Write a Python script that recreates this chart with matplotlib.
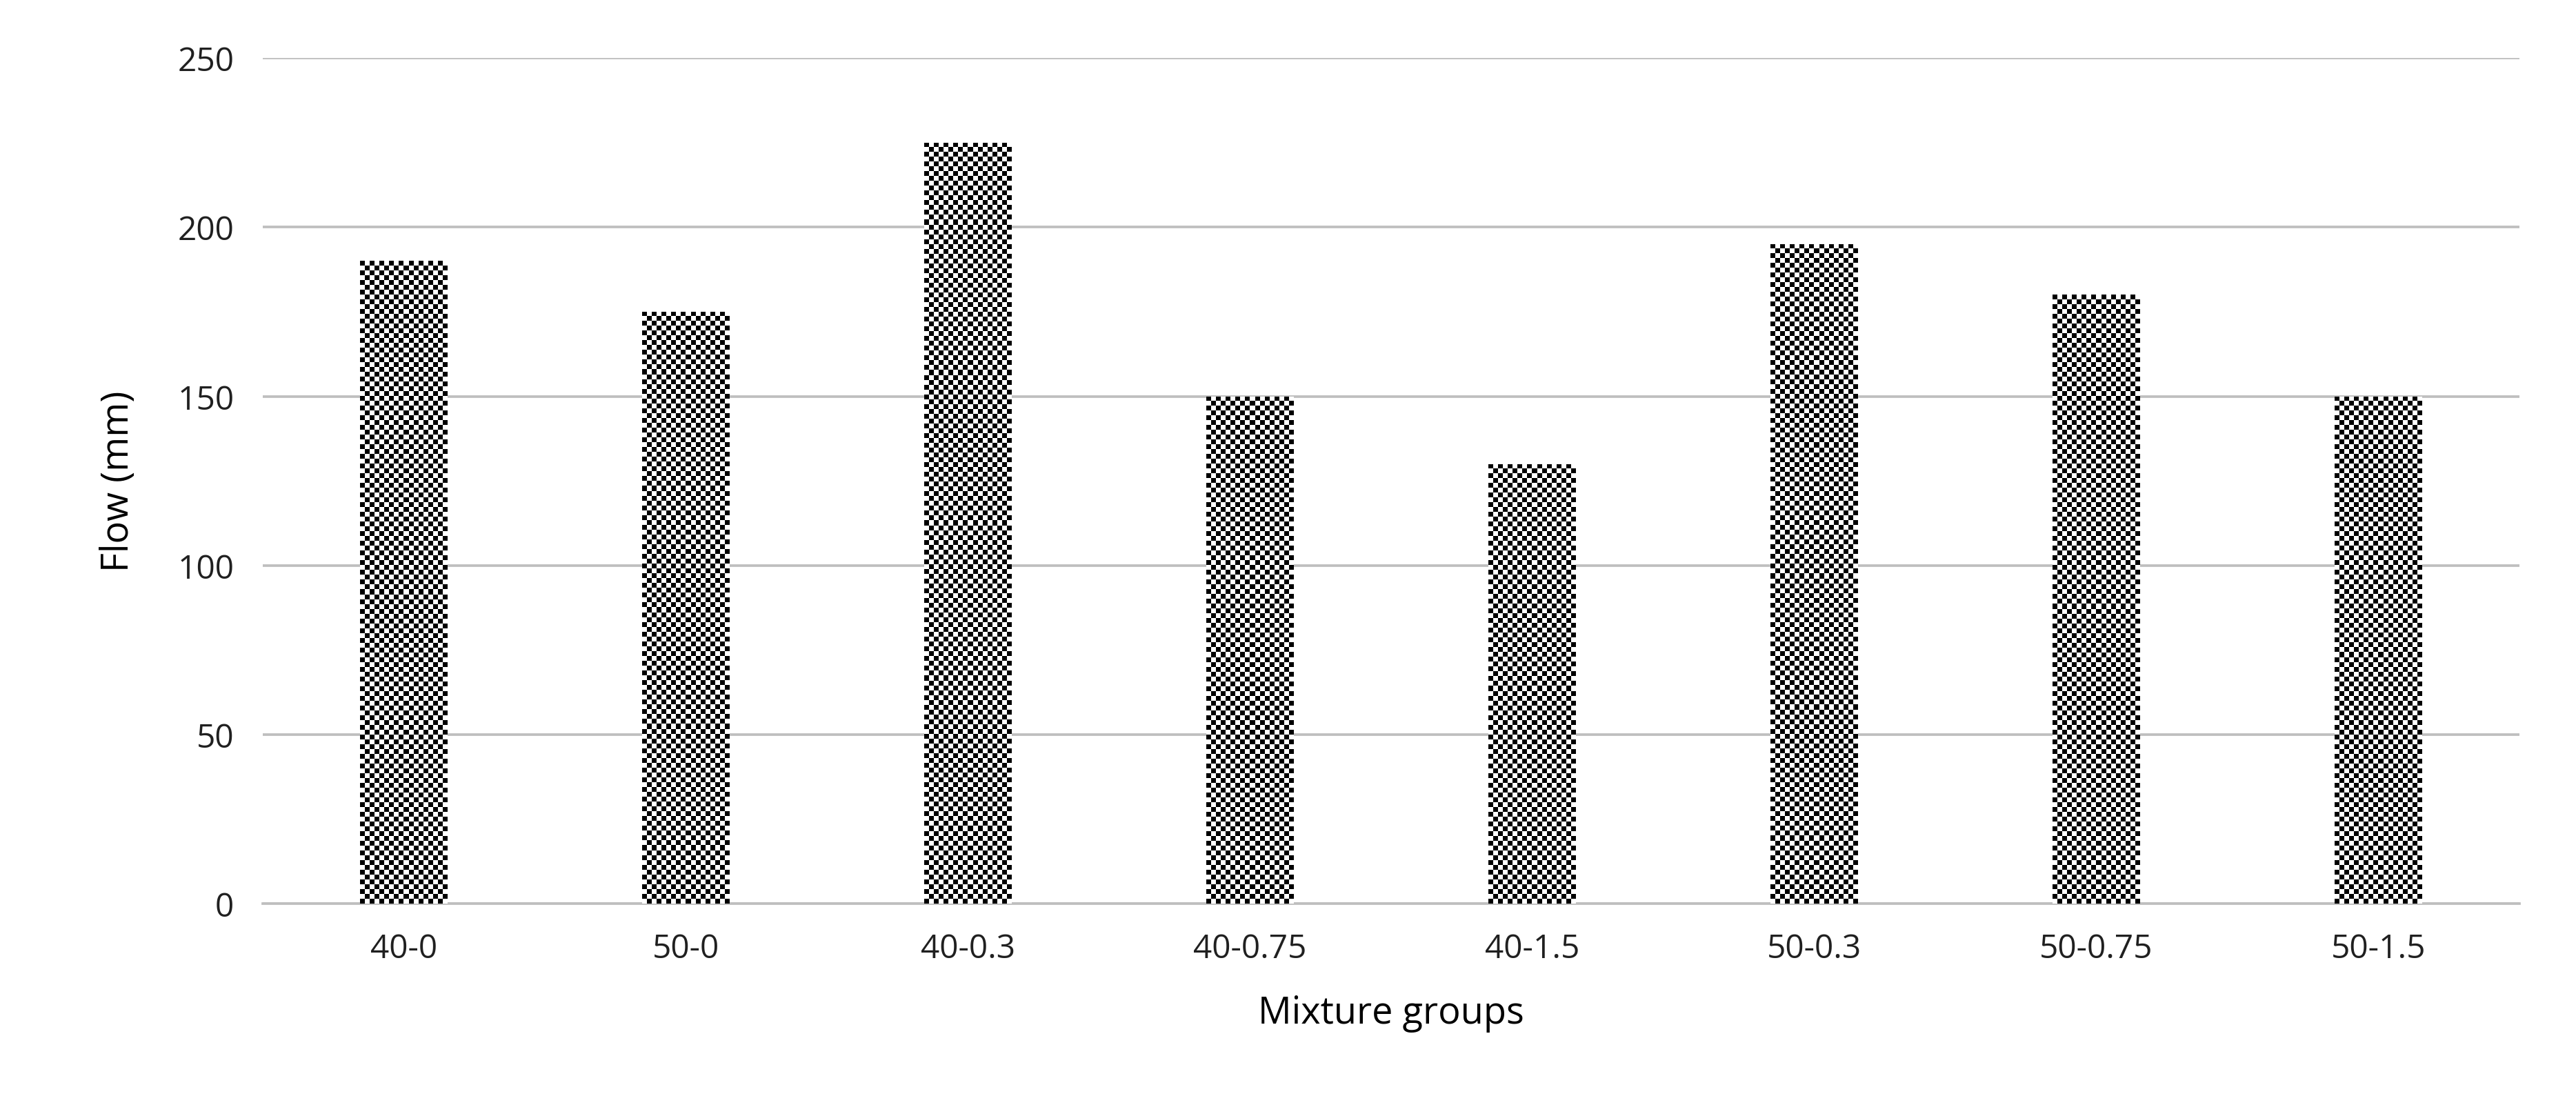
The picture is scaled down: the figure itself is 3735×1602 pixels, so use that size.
import numpy as np
import matplotlib.pyplot as plt

groups = ['40-0', '50-0', '40-0.3', '40-0.75', '40-1.5', '50-0.3', '50-0.75', '50-1.5']
flow = [190, 175, 225, 150, 130, 195, 180, 150]

plt.rcParams['font.family'] = ['Open Sans', 'DejaVu Sans']

fig = plt.figure(figsize=(12.45, 5.343), dpi=300)
ax = fig.add_axes([0.102, 0.182, 0.876, 0.765])

x = np.arange(len(groups))
bw = 0.31
bars = ax.bar(x, flow, width=bw, color='white', edgecolor='none', zorder=2)

# checkerboard fill, clipped to each bar
for b, v in zip(bars, flow):
    ncol = 18
    nrow = int(round(v / 1.43))
    img = (np.add.outer(np.arange(nrow), np.arange(ncol)) % 2).astype(float)
    im = ax.imshow(img, cmap='gray', vmin=0, vmax=1, interpolation='nearest',
                   extent=[b.get_x(), b.get_x() + b.get_width(), 0, v],
                   aspect='auto', zorder=3)
    im.set_clip_path(b)

ax.set_xlim(-0.5, len(groups) - 0.5)
ax.set_ylim(0, 250)
ax.set_yticks(range(0, 251, 50))
ax.set_xticks(x)
ax.set_xticklabels(groups)
ax.yaxis.grid(True, color='#BFBFBF', lw=0.9, zorder=0)
ax.set_axisbelow(True)
for s in ['top', 'right', 'left']:
    ax.spines[s].set_visible(False)
ax.spines['bottom'].set_color('#BFBFBF')
ax.spines['bottom'].set_linewidth(0.9)
ax.tick_params(length=0, labelsize=11.5, colors='#202020', pad=10)
ax.set_xlabel('Mixture groups', fontsize=13, labelpad=10)
ax.set_ylabel('Flow (mm)', fontsize=13, labelpad=14)

fig.savefig('out.png', dpi=300)
